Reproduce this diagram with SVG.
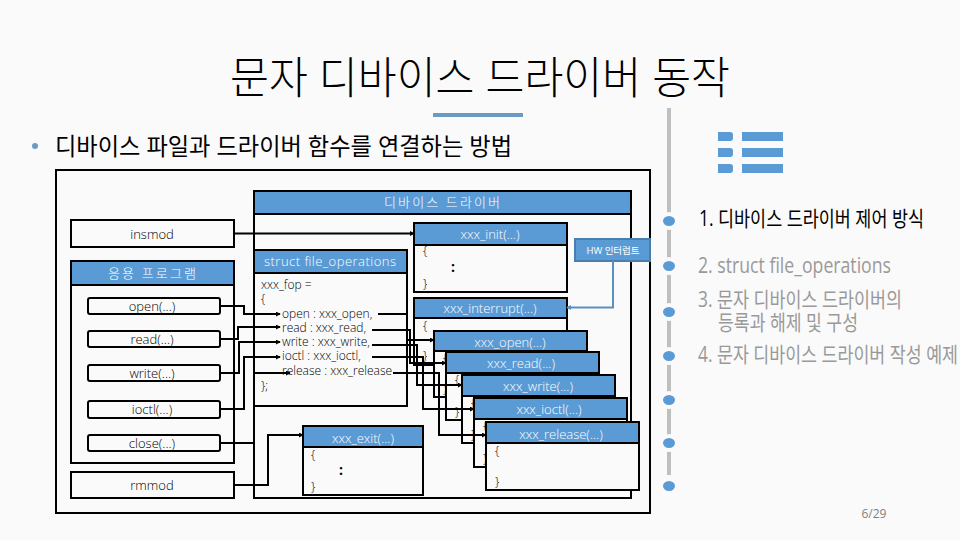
<svg xmlns="http://www.w3.org/2000/svg" width="960" height="540" viewBox="0 0 960 540">
<style>
text{font-family:"Open Sans","Noto Sans CJK KR",sans-serif}
.box{fill:#fafafa;stroke:#000;stroke-width:2}
.hd{fill:#5b9bd5;stroke:#000;stroke-width:2}
.btn{fill:#fafafa;stroke:#000;stroke-width:2}
.w{fill:#fff;font-size:13px;text-anchor:middle;font-weight:300}
.k{fill:#000;font-size:13px;text-anchor:middle;font-weight:300}
.c{fill:#000;font-size:12px;font-weight:300}
.b{fill:#000;font-size:14px;font-weight:700}
.con{fill:none;stroke:#000;stroke-width:2}
.dot{fill:#5b9bd5;stroke:#fafafa;stroke-width:4}
.bar{fill:#5b9bd5}
.g{fill:#999;font-size:21px;font-weight:400}
</style>
<defs>
<marker id="a" viewBox="0 0 6 6" refX="5" refY="3" markerWidth="2.500" markerHeight="2.500" orient="auto" markerUnits="strokeWidth"><path d="M0 0L6 3L0 6z" fill="#000"/></marker>
<marker id="b" viewBox="0 0 6 6" refX="5" refY="3" markerWidth="2.500" markerHeight="2.500" orient="auto" markerUnits="strokeWidth"><path d="M0 0L6 3L0 6z" fill="#5b8fc0"/></marker>
</defs>
<rect width="960" height="540" fill="#fafafa"/>
<g id="title">
<text x="230" y="94" font-size="44" fill="#000" font-weight="300" textLength="500" lengthAdjust="spacingAndGlyphs">문자 디바이스 드라이버 동작</text>
<rect x="433" y="113" width="90" height="4" fill="#6b9ac4"/>
</g>
<g id="subtitle">
<circle cx="35" cy="146" r="3" fill="#6b9ac4"/>
<text x="55" y="155" font-size="24" fill="#000" textLength="457" lengthAdjust="spacingAndGlyphs">디바이스 파일과 드라이버 함수를 연결하는 방법</text>
</g>
<g id="timeline">
<rect x="667" y="108" width="4" height="367" fill="#bfbfbf"/>
<ellipse class="dot" cx="669" cy="221" rx="8" ry="7"/>
<ellipse class="dot" cx="669" cy="266" rx="8" ry="7"/>
<ellipse class="dot" cx="669" cy="312" rx="8" ry="7"/>
<ellipse class="dot" cx="669" cy="356" rx="8" ry="7"/>
<ellipse class="dot" cx="669" cy="400" rx="8" ry="7"/>
<ellipse class="dot" cx="669" cy="443" rx="8" ry="7"/>
<ellipse class="dot" cx="669" cy="486" rx="8" ry="7"/>
</g>
<g id="menu-icon">
<path class="bar" d="M718 132h12q3 0 3 3v3q0 3-3 3h-12zM718 148h12q3 0 3 3v3q0 3-3 3h-12zM718 164h12q3 0 3 3v3q0 3-3 3h-12z"/>
<rect class="bar" x="742" y="132" width="41" height="9"/>
<rect class="bar" x="742" y="148" width="41" height="9"/>
<rect class="bar" x="742" y="164" width="41" height="9"/>
</g>
<g id="toc">
<text x="699" y="226" font-size="21" fill="#000" textLength="225" lengthAdjust="spacingAndGlyphs">1. 디바이스 드라이버 제어 방식</text>
<text class="g" x="698" y="273" textLength="193" lengthAdjust="spacingAndGlyphs">2. struct file_operations</text>
<text class="g" x="698" y="307" textLength="204" lengthAdjust="spacingAndGlyphs">3. 문자 디바이스 드라이버의</text>
<text class="g" x="718" y="330" textLength="140" lengthAdjust="spacingAndGlyphs">등록과 해제 및 구성</text>
<text class="g" x="698" y="362" textLength="260" lengthAdjust="spacingAndGlyphs">4. 문자 디바이스 드라이버 작성 예제</text>
</g>
<g id="frame"><rect x="56" y="170" width="594" height="343" fill="none" stroke="#000" stroke-width="2"/></g>
<g id="device-driver">
<rect class="box" x="254" y="191" width="377" height="307"/>
<rect class="hd" x="254" y="191" width="377" height="23"/>
<text class="w" x="442" y="207" textLength="116" lengthAdjust="spacing">디바이스 드라이버</text>
</g>
<g id="insmod"><rect class="box" x="71" y="220" width="163" height="27"/><text class="k" x="152" y="239">insmod</text></g>
<g id="app">
<rect class="box" x="71" y="261" width="163" height="202"/>
<rect class="hd" x="71" y="261" width="163" height="24"/>
<text class="w" x="152" y="278" textLength="88" lengthAdjust="spacing">응용 프로그램</text>
</g>
<g id="open"><rect class="btn" x="88" y="298" width="132" height="16" rx="2"/><text class="k" x="152" y="311">open(...)</text></g>
<g id="read"><rect class="btn" x="88" y="331" width="132" height="16" rx="2"/><text class="k" x="152" y="344">read(...)</text></g>
<g id="write"><rect class="btn" x="88" y="365" width="132" height="16" rx="2"/><text class="k" x="152" y="378">write(...)</text></g>
<g id="ioctl"><rect class="btn" x="88" y="401" width="132" height="17" rx="2"/><text class="k" x="152" y="414">ioctl(...)</text></g>
<g id="close"><rect class="btn" x="88" y="435" width="132" height="16" rx="2"/><text class="k" x="152" y="448">close(...)</text></g>
<g id="rmmod"><rect class="box" x="71" y="472" width="163" height="26"/><text class="k" x="152" y="490">rmmod</text></g>
<g id="file-operations">
<rect class="box" x="254" y="250" width="153" height="156"/>
<rect class="hd" x="254" y="250" width="153" height="23"/>
<text class="w" x="330" y="266" textLength="132" lengthAdjust="spacing">struct file_operations</text>
<text class="c" x="261" y="289">xxx_fop =</text>
<text class="c" x="261" y="303">{</text>
<text class="c" x="282" y="318">open : xxx_open,</text>
<text class="c" x="282" y="332">read  : xxx_read,</text>
<text class="c" x="282" y="346">write : xxx_write,</text>
<text class="c" x="282" y="360">ioctl  : xxx_ioctl,</text>
<text class="c" x="282" y="375">release : xxx_release</text>
<text class="c" x="261" y="390">};</text>
</g>
<g id="xxx-init">
<rect class="box" x="414" y="223" width="153" height="69"/>
<rect class="hd" x="414" y="223" width="153" height="22"/>
<text class="w" x="490" y="239">xxx_init(...)</text>
<text class="c" x="423" y="255">{</text><text class="b" x="451" y="272">:</text><text class="c" x="423" y="288">}</text>
</g>
<g id="hw-interrupt">
<rect x="575" y="239" width="75" height="22" fill="#5b9bd5" stroke="#4a7eae" stroke-width="2"/>
<text x="613" y="254" font-size="9.500" fill="#fff" text-anchor="middle">HW 인터럽트</text>
</g>
<g id="xxx-interrupt">
<rect class="box" x="414" y="298" width="153" height="67"/>
<rect class="hd" x="414" y="298" width="153" height="20"/>
<text class="w" x="490" y="313">xxx_interrupt(...)</text>
<text class="c" x="423" y="330">{</text><text class="c" x="423" y="360">}</text>
</g>
<g id="xxx-exit">
<rect class="box" x="303" y="426" width="120" height="69"/>
<rect class="hd" x="303" y="426" width="120" height="21"/>
<text class="w" x="363" y="443">xxx_exit(...)</text>
<text class="c" x="311" y="459">{</text><text class="b" x="339" y="475">:</text><text class="c" x="311" y="491">}</text>
</g>
<g id="xxx-open">
<rect class="box" x="434" y="331" width="153" height="66"/>
<rect class="hd" x="434" y="331" width="153" height="20"/>
<text class="w" x="510" y="347">xxx_open(...)</text>
<text class="c" x="443" y="362">{</text><text class="c" x="443" y="393">}</text>
</g>
<g id="xxx-read">
<rect class="box" x="446" y="352" width="153" height="68"/>
<rect class="hd" x="446" y="352" width="153" height="21"/>
<text class="w" x="521" y="368">xxx_read(...)</text>
<text class="c" x="455" y="384">{</text><text class="c" x="455" y="416">}</text>
</g>
<g id="xxx-write">
<rect class="box" x="462" y="375" width="153" height="68"/>
<rect class="hd" x="462" y="375" width="153" height="21"/>
<text class="w" x="538" y="391">xxx_write(...)</text>
<text class="c" x="471" y="407">{</text><text class="c" x="471" y="439">}</text>
</g>
<g id="xxx-ioctl">
<rect class="box" x="474" y="398" width="153" height="69"/>
<rect class="hd" x="474" y="398" width="153" height="21"/>
<text class="w" x="549" y="414">xxx_ioctl(...)</text>
<text class="c" x="483" y="430">{</text><text class="c" x="483" y="463">}</text>
</g>
<g id="xxx-release">
<rect class="box" x="486" y="422" width="153" height="68"/>
<rect class="hd" x="486" y="422" width="153" height="21"/>
<text class="w" x="561" y="439">xxx_release(...)</text>
<text class="c" x="495" y="455">{</text><text class="c" x="495" y="486">}</text>
</g>
<g id="connectors">
<path class="con" marker-end="url(#a)" d="M234 233.500H414"/>
<path class="con" marker-end="url(#a)" d="M220 306H244V314H280"/>
<path class="con" marker-end="url(#a)" d="M220 339H238V327H280"/>
<path class="con" marker-end="url(#a)" d="M220 373H239V342H280"/>
<path class="con" marker-end="url(#a)" d="M220 409H244V357H280"/>
<path class="con" marker-end="url(#a)" d="M220 443H254V373H290"/>
<path class="con" marker-end="url(#a)" d="M234 485H268V435H303"/>
<path class="con" marker-end="url(#a)" d="M378 314H407V340H434"/>
<path class="con" marker-end="url(#a)" d="M372 330H410V363H446"/>
<path class="con" marker-end="url(#a)" d="M372 345H417V385H462"/>
<path class="con" marker-end="url(#a)" d="M372 357H423V409H474"/>
<path class="con" marker-end="url(#a)" d="M393 373H439V435H486"/>
<path fill="none" stroke="#5b8fc0" stroke-width="2" marker-end="url(#b)" d="M613 261V307.500H567"/>
</g>
<g id="page"><text x="874" y="518" font-size="12" fill="#7f7f7f" text-anchor="middle">6/29</text></g>
</svg>
